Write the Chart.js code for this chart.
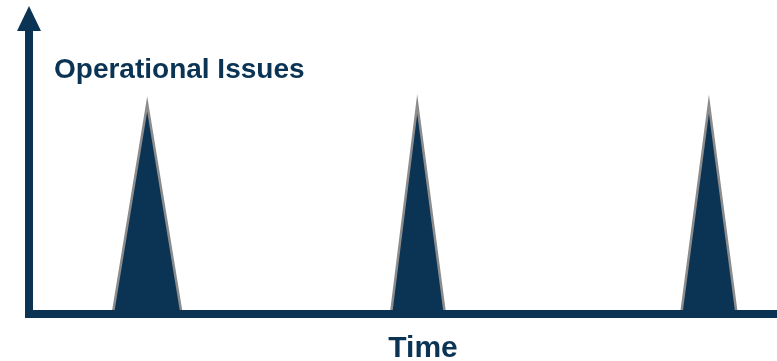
<!DOCTYPE html>
<html>
<head>
<meta charset="utf-8">
<script src="https://cdn.jsdelivr.net/npm/chart.js@4"></script>
<style>
  html, body { margin: 0; padding: 0; background: #fff; }
  #wrap { width: 777px; height: 361px; }
</style>
</head>
<body>
<div id="wrap"><canvas id="issuesChart" width="777" height="361"></canvas></div>
<script>
// spikes: time position (0-100) and issue level
const timePoints = [11.2, 15.8, 20.4, 48.4, 51.9, 55.6, 87.2, 90.9, 94.6];
const issueLevels = [0, 10, 0, 0, 10, 0, 0, 10, 0];

const yAxisLabel = "Operational Issues";
const xAxisLabel = "Time";

const NAVY = "#0b3354";
const EDGE = "#8c8c8c";

// AXES WITH ARROW + LABELS
const axesPlugin = {
  id: "arrowAxes",
  afterDatasetsDraw(chart) {
    const { ctx, chartArea, scales } = chart;
    const x0 = scales.x.getPixelForValue(0);
    const y0 = scales.y.getPixelForValue(0);
    ctx.save();
    ctx.fillStyle = NAVY;
    // vertical axis
    ctx.fillRect(x0 - 4, 30, 8, y0 - 30 + 4);
    // arrow head
    ctx.beginPath();
    ctx.moveTo(x0, 6);
    ctx.lineTo(x0 + 12, 31);
    ctx.lineTo(x0 - 12, 31);
    ctx.closePath();
    ctx.fill();
    // horizontal axis
    ctx.fillRect(x0 - 4, y0 - 4, chartArea.right - x0 + 4, 8);

    ctx.font = "bold 28px 'Liberation Sans', Arial, sans-serif";
    ctx.textBaseline = "alphabetic";
    ctx.textAlign = "left";
    ctx.fillText(yAxisLabel, 54, 78);
    ctx.font = "bold 30px 'Liberation Sans', Arial, sans-serif";
    ctx.textAlign = "center";
    ctx.fillText(xAxisLabel, 423, 357);
    ctx.restore();
  },
};

const issuesData = {
  datasets: [
    {
      data: timePoints.map((t, i) => ({ x: t, y: issueLevels[i] })),
      backgroundColor: NAVY,
      borderColor: EDGE,
      borderWidth: 2.5,
      borderJoinStyle: "miter",
      fill: "origin",
      tension: 0,
      pointRadius: 0,
    },
  ],
};

const issuesConfig = {
  type: "line",
  data: issuesData,
  options: {
    responsive: false,
    animation: false,
    layout: { padding: { left: 29, right: 0, top: 62, bottom: 47 } },
    scales: {
      x: { type: "linear", min: 0, max: 100, display: false },
      y: { min: 0, max: 12, display: false },
    },
    plugins: {
      legend: { display: false },
      tooltip: { enabled: false },
    },
  },
  plugins: [axesPlugin],
};

// RENDER THE CHART
const issuesChart = new Chart(document.getElementById("issuesChart"), issuesConfig);
</script>
</body>
</html>
